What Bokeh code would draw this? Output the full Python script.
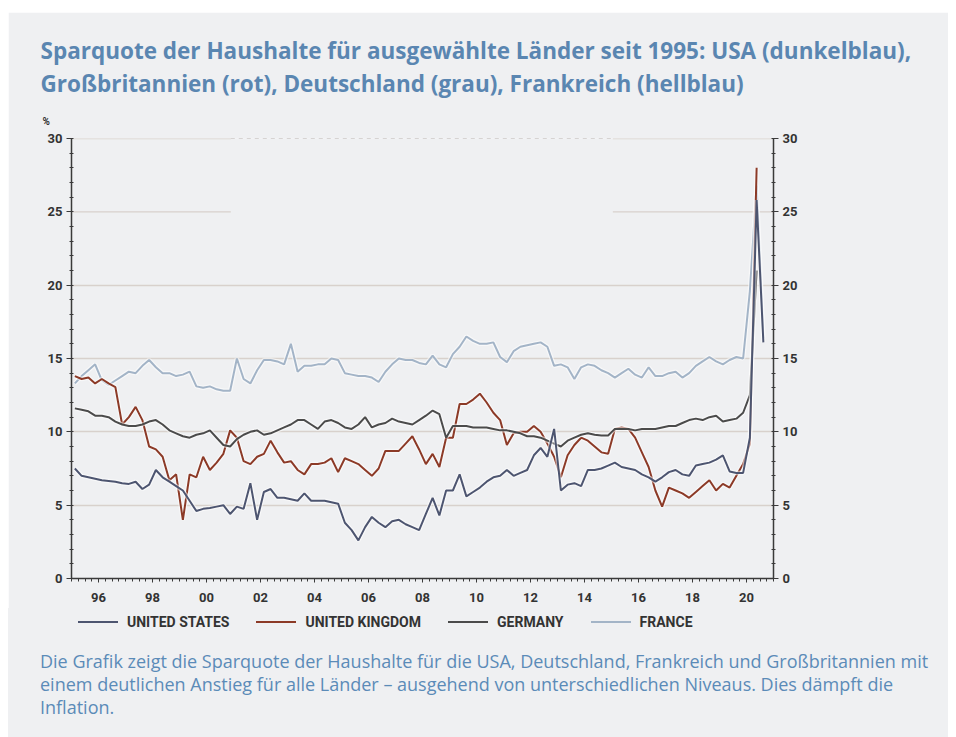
from bokeh.plotting import figure
from bokeh.layouts import column
from bokeh.models import Range1d, LinearAxis, FixedTicker, ColumnDataSource, Title, Div
from bokeh.embed import file_html
from bokeh.resources import INLINE

nan = float("nan")

# ---------------- data (quarterly, 1995Q1 .. 2020Q3) ----------------
start_year = 1995
n_quarters = 103

united_states = [
    7.5, 7.0, 6.9, 6.8,    # 1995
    6.7, 6.65, 6.6, 6.5,   # 1996
    6.45, 6.6, 6.1, 6.4,   # 1997
    7.4, 6.9, 6.6, 6.3,    # 1998
    6.0, 5.3, 4.6, 4.75,   # 1999
    4.8, 4.9, 5.0, 4.4,    # 2000
    4.9, 4.75, 6.5, 4.0,   # 2001
    5.9, 6.1, 5.5, 5.5,    # 2002
    5.4, 5.3, 5.8, 5.3,    # 2003
    5.3, 5.3, 5.2, 5.1,    # 2004
    3.8, 3.3, 2.6, 3.5,    # 2005
    4.2, 3.8, 3.5, 3.9,    # 2006
    4.0, 3.7, 3.5, 3.3,    # 2007
    4.4, 5.5, 4.3, 6.0,    # 2008
    6.0, 7.1, 5.6, 5.9,    # 2009
    6.2, 6.6, 6.9, 7.0,    # 2010
    7.4, 7.0, 7.2, 7.4,    # 2011
    8.4, 8.9, 8.3, 10.2,   # 2012
    6.0, 6.4, 6.5, 6.3,    # 2013
    7.4, 7.4, 7.5, 7.7,    # 2014
    7.9, 7.6, 7.5, 7.4,    # 2015
    7.1, 6.9, 6.6, 6.9,    # 2016
    7.25, 7.4, 7.1, 7.0,   # 2017
    7.7, 7.8, 7.9, 8.1,    # 2018
    8.4, 7.3, 7.2, 7.2,    # 2019
    9.6, 25.8, 16.1,       # 2020
]

united_kingdom = [
    13.8, 13.6, 13.7, 13.3,   # 1995
    13.6, 13.3, 13.05, 10.5,  # 1996
    11.0, 11.7, 10.8, 9.0,    # 1997
    8.8, 8.3, 6.7, 7.1,       # 1998
    4.0, 7.1, 6.9, 8.3,       # 1999
    7.4, 7.9, 8.5, 10.1,      # 2000
    9.6, 8.0, 7.8, 8.3,       # 2001
    8.5, 9.4, 8.6, 7.9,       # 2002
    8.0, 7.4, 7.1, 7.8,       # 2003
    7.8, 7.9, 8.2, 7.25,      # 2004
    8.2, 8.0, 7.8, 7.4,       # 2005
    7.0, 7.5, 8.7, 8.7,       # 2006
    8.7, 9.2, 9.7, 8.8,       # 2007
    7.8, 8.5, 7.6, 9.6,       # 2008
    9.6, 11.9, 11.9, 12.2,    # 2009
    12.6, 12.0, 11.3, 10.8,   # 2010
    9.1, 9.9, 10.0, 10.0,     # 2011
    10.4, 10.0, 9.2, 8.3,     # 2012
    6.9, 8.4, 9.1, 9.6,       # 2013
    9.4, 9.0, 8.6, 8.5,       # 2014
    10.2, 10.3, 10.2, 9.6,    # 2015
    8.6, 7.6, 6.0, 4.9,       # 2016
    6.2, 6.0, 5.8, 5.5,       # 2017
    5.9, 6.3, 6.7, 6.0,       # 2018
    6.45, 6.2, 7.0, 7.8,      # 2019
    9.2, 28.0, nan,           # 2020
]

germany = [
    11.6, 11.5, 11.4, 11.1,   # 1995
    11.1, 11.0, 10.7, 10.5,   # 1996
    10.4, 10.4, 10.5, 10.7,   # 1997
    10.8, 10.5, 10.1, 9.9,    # 1998
    9.7, 9.6, 9.8, 9.9,       # 1999
    10.1, 9.6, 9.1, 9.0,      # 2000
    9.5, 9.8, 10.0, 10.1,     # 2001
    9.8, 9.9, 10.1, 10.3,     # 2002
    10.5, 10.8, 10.8, 10.5,   # 2003
    10.2, 10.7, 10.8, 10.6,   # 2004
    10.3, 10.2, 10.5, 11.0,   # 2005
    10.3, 10.5, 10.6, 10.9,   # 2006
    10.7, 10.6, 10.5, 10.8,   # 2007
    11.1, 11.45, 11.2, 9.6,   # 2008
    10.4, 10.4, 10.4, 10.3,   # 2009
    10.3, 10.3, 10.2, 10.1,   # 2010
    10.1, 10.0, 9.9, 9.7,     # 2011
    9.7, 9.6, 9.4, 9.2,       # 2012
    9.0, 9.4, 9.6, 9.8,       # 2013
    9.9, 9.8, 9.75, 9.75,     # 2014
    10.2, 10.2, 10.2, 10.1,   # 2015
    10.2, 10.2, 10.2, 10.3,   # 2016
    10.4, 10.4, 10.6, 10.8,   # 2017
    10.9, 10.8, 11.0, 11.1,   # 2018
    10.7, 10.8, 10.9, 11.3,   # 2019
    12.5, 21.0, nan,          # 2020
]

france = [
    13.3, 13.8, 14.2, 14.6,   # 1995
    13.5, 13.2, 13.5, 13.8,   # 1996
    14.1, 14.0, 14.5, 14.9,   # 1997
    14.4, 14.0, 14.0, 13.8,   # 1998
    13.9, 14.1, 13.1, 13.0,   # 1999
    13.1, 12.9, 12.8, 12.8,   # 2000
    15.0, 13.6, 13.3, 14.2,   # 2001
    14.9, 14.9, 14.8, 14.6,   # 2002
    16.0, 14.1, 14.5, 14.5,   # 2003
    14.6, 14.6, 15.0, 14.9,   # 2004
    14.0, 13.9, 13.8, 13.8,   # 2005
    13.7, 13.4, 14.1, 14.6,   # 2006
    15.0, 14.9, 14.9, 14.7,   # 2007
    14.6, 15.2, 14.6, 14.4,   # 2008
    15.3, 15.8, 16.5, 16.2,   # 2009
    16.0, 16.0, 16.1, 15.1,   # 2010
    14.75, 15.5, 15.8, 15.9,  # 2011
    16.0, 16.1, 15.8, 14.5,   # 2012
    14.6, 14.4, 13.6, 14.4,   # 2013
    14.6, 14.5, 14.2, 14.0,   # 2014
    13.7, 14.0, 14.3, 13.9,   # 2015
    13.7, 14.4, 13.8, 13.8,   # 2016
    14.0, 14.1, 13.7, 14.0,   # 2017
    14.5, 14.8, 15.1, 14.8,   # 2018
    14.6, 14.9, 15.1, 15.0,   # 2019
    19.6, 26.8, 16.4,         # 2020
]

series_names = ["UNITED STATES", "UNITED KINGDOM", "GERMANY", "FRANCE"]
y_ticks = [0, 5, 10, 15, 20, 25, 30]
x_label_years = list(range(1996, 2021, 2))

title_lines = [
    "Sparquote der Haushalte für ausgewählte Länder seit 1995: USA (dunkelblau),",
    "Großbritannien (rot), Deutschland (grau), Frankreich (hellblau)",
]
caption_lines = [
    "Die Grafik zeigt die Sparquote der Haushalte für die USA, Deutschland, Frankreich und Großbritannien mit",
    "einem deutlichen Anstieg für alle Länder – ausgehend von unterschiedlichen Niveaus. Dies dämpft die",
    "Inflation.",
]
unit_label = "%"

# quarter mid-points as decimal years
t = [start_year + i // 4 + ((i % 4) + 0.5) / 4 for i in range(n_quarters)]

# ---------------- styling ----------------
BG = "#eff0f2"
TITLE_C = "#5a86b1"
CAPTION_C = "#5b8bb8"
TEXT_C = "#333333"
AXIS_C = "#3a3a3a"
GRID_C = "#d8d1cc"
COLORS = {
    "UNITED STATES": "#4d5570",
    "UNITED KINGDOM": "#8c3a27",
    "GERMANY": "#4b4b4b",
    "FRANCE": "#a3b4c7",
}

FRAME_W, FRAME_H = 702, 440
B_LEFT, B_RIGHT, B_TOP, B_BOTTOM = 63, 175, 126, 30
FIG_W = B_LEFT + FRAME_W + B_RIGHT

p = figure(frame_width=FRAME_W, frame_height=FRAME_H,
           x_range=Range1d(1995, 2021), y_range=Range1d(0, 30),
           output_backend="svg", toolbar_location=None,
           min_border_left=B_LEFT, min_border_right=B_RIGHT,
           min_border_top=B_TOP, min_border_bottom=B_BOTTOM,
           background_fill_color=BG, border_fill_color=BG, outline_line_color=None,
           margin=(12, 0, 0, 8))

# grid
p.xgrid.visible = False
p.ygrid.ticker = FixedTicker(ticks=[5, 10, 15, 20])
p.ygrid.grid_line_color = GRID_C
p.ygrid.grid_line_width = 1.3

# partial upper gridlines (as in the source graphic)
gap_start, gap_end = 2000.9, 2015.05
for yv in (25, 30):
    p.segment(x0=[1995, gap_end], y0=[yv, yv], x1=[gap_start, 2021], y1=[yv, yv],
              line_color=GRID_C, line_width=1.3)
p.segment(x0=[gap_start], y0=[30], x1=[gap_end], y1=[30],
          line_color="#b9b3b0", line_width=1.0, line_dash="4 4")

# axes
def style_y(ax):
    ax.ticker = FixedTicker(ticks=y_ticks, minor_ticks=list(range(0, 31)))
    ax.axis_line_color = AXIS_C
    ax.axis_line_width = 1.5
    ax.major_tick_line_color = AXIS_C
    ax.minor_tick_line_color = AXIS_C
    ax.major_tick_out = 5
    ax.major_tick_in = 0
    ax.minor_tick_out = 2
    ax.minor_tick_in = 2
    ax.major_label_text_font = "Roboto"
    ax.major_label_text_font_size = "13px"
    ax.major_label_text_font_style = "bold"
    ax.major_label_text_color = TEXT_C
    ax.major_label_standoff = 4

style_y(p.yaxis[0])
right_axis = LinearAxis()
style_y(right_axis)
p.add_layout(right_axis, "right")

xa = p.xaxis[0]
xa.ticker = FixedTicker(ticks=x_label_years,
                        minor_ticks=[1995 + k / 4 for k in range(0, 26 * 4 + 1)])
xa.major_label_overrides = {yr: f"{yr % 100:02d}" for yr in x_label_years}
xa.axis_line_color = AXIS_C
xa.axis_line_width = 1.5
xa.major_tick_line_color = AXIS_C
xa.minor_tick_line_color = AXIS_C
xa.major_tick_out = 4
xa.major_tick_in = 0
xa.minor_tick_out = 3
xa.minor_tick_in = 0
xa.major_label_text_font = "Roboto"
xa.major_label_text_font_size = "13px"
xa.major_label_text_font_style = "bold"
xa.major_label_text_color = TEXT_C
xa.major_label_standoff = 10

# lines
data = {
    "UNITED STATES": united_states,
    "UNITED KINGDOM": united_kingdom,
    "GERMANY": germany,
    "FRANCE": france,
}
for name in ["FRANCE", "UNITED KINGDOM", "GERMANY", "UNITED STATES"]:
    src = ColumnDataSource(dict(x=t, y=data[name]))
    p.line("x", "y", source=src, line_color="white", line_alpha=0.55, line_width=4.5)
    p.line("x", "y", source=src, line_color=COLORS[name], line_width=2.0)

# ---- above panel: unit label + two title lines (first added = nearest the frame)
p.add_layout(Title(text=unit_label, align="left", offset=-29, standoff=24,
                   text_font="Roboto", text_font_size="10px", text_font_style="bold",
                   text_color=TEXT_C), "above")
p.add_layout(Title(text=title_lines[1], align="left", offset=-31, standoff=6,
                   text_font="Open Sans", text_font_size="22.5px", text_font_style="bold",
                   text_color=TITLE_C), "above")
p.add_layout(Title(text=title_lines[0], align="left", offset=-31, standoff=-7,
                   text_font="Open Sans", text_font_size="22.5px", text_font_style="bold",
                   text_color=TITLE_C), "above")

# ---- legend + caption below the chart (HTML block with the same background)
PAGE_H = 737
fig_bottom = 12 + B_TOP + FRAME_H + B_BOTTOM
block_h = PAGE_H - fig_bottom

legend_items = "".join(
    f'<span style="display:inline-flex;align-items:center;margin-right:27px;">'
    f'<span style="display:inline-block;width:40px;height:2px;background:{COLORS[n]};margin-right:9px;"></span>'
    f'<span>{n}</span></span>'
    for n in series_names
)
caption_html = "<br>".join(caption_lines)
html = (
    f'<div style="position:relative;width:{FIG_W}px;height:{block_h}px;background:{BG};">'
    f'<div style="position:absolute;left:70px;top:5px;height:18px;display:flex;align-items:center;'
    f'font-family:Roboto;font-weight:bold;font-size:14px;color:{TEXT_C};white-space:nowrap;">'
    f'{legend_items}</div>'
    f'<div style="position:absolute;left:32px;top:42px;font-family:\'Open Sans\';font-size:18px;'
    f'line-height:23px;color:{CAPTION_C};white-space:nowrap;">{caption_html}</div>'
    f'</div>'
)
below = Div(text=html, width=FIG_W, height=block_h, margin=(0, 0, 0, 8))

layout = column(p, below, spacing=0)
open("out.html", "w").write(file_html(layout, INLINE))
